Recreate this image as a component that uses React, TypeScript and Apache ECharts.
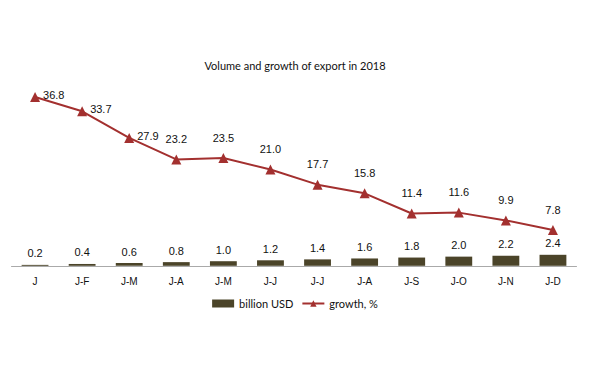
import React, { useEffect, useRef } from "react";
import * as echarts from "echarts";

const categories = ["J", "J-F", "J-M", "J-A", "J-M", "J-J", "J-J", "J-A", "J-S", "J-O", "J-N", "J-D"];
const volume = [0.2, 0.4, 0.6, 0.8, 1.0, 1.2, 1.4, 1.6, 1.8, 2.0, 2.2, 2.4];
const growth = [36.8, 33.7, 27.9, 23.2, 23.5, 21.0, 17.7, 15.8, 11.4, 11.6, 9.9, 7.8];
const rightLabelCount = 3;

export default function App() {
  const ref = useRef<HTMLDivElement>(null);
  useEffect(() => {
    if (!ref.current) return;
    const chart = echarts.init(ref.current, null, { renderer: "svg" });
    const labelFont = { fontFamily: "Liberation Sans", fontSize: 11, color: "#111" };
    chart.setOption({
      animation: false,
      backgroundColor: "#fff",
      title: {
        text: "Volume and growth of export in 2018",
        left: "center",
        top: 55,
        textStyle: { fontFamily: "Lato", fontSize: 11, fontWeight: "normal", color: "#111" },
      },
      legend: {
        bottom: 56,
        left: "center",
        itemGap: 8,
        itemWidth: 22,
        itemHeight: 8,
        textStyle: { fontFamily: "Lato", fontSize: 11, color: "#111" },
        data: [
          { name: "billion USD", icon: "rect" },
          { name: "growth, %" },
        ],
      },
      grid: { left: 11.5, right: 13.5, top: 82.4, bottom: 104.2, containLabel: false },
      xAxis: {
        type: "category",
        data: categories,
        axisLine: { lineStyle: { color: "#aaa", width: 1 } },
        axisTick: { show: false },
        axisLabel: { fontFamily: "Liberation Sans", fontSize: 10, color: "#111", margin: 11 },
      },
      yAxis: {
        type: "value",
        min: 0,
        max: 40,
        show: false,
        splitLine: { show: false },
      },
      series: [
        {
          name: "billion USD",
          type: "bar",
          data: volume,
          barWidth: "57%",
          itemStyle: { color: "#4b4429" },
          label: { show: true, position: "top", distance: 6, formatter: (p: any) => p.value.toFixed(1), ...labelFont },
        },
        {
          name: "growth, %",
          type: "line",
          data: growth.map((v, i) => ({
            value: v,
            label:
              i < rightLabelCount
                ? { position: "right", distance: 3, offset: [0, -2] }
                : { position: "top", distance: 10 },
          })),
          symbol: "triangle",
          symbolSize: 10,
          lineStyle: { color: "#a3302f", width: 2 },
          itemStyle: { color: "#a3302f" },
          label: { show: true, formatter: (p: any) => Number(p.value).toFixed(1), ...labelFont },
        },
      ],
    });
    return () => chart.dispose();
  }, []);
  return <div ref={ref} style={{ position: "absolute", left: 0, top: 0, width: 590, height: 370 }} />;
}
